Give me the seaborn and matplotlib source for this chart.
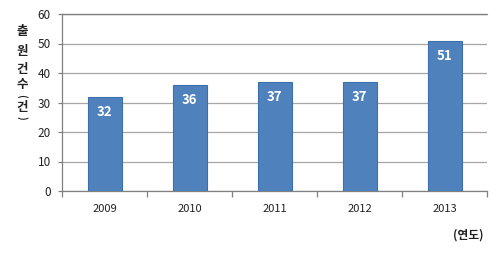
import matplotlib
matplotlib.use("Agg")
import matplotlib.pyplot as plt
import seaborn as sns
import pandas as pd

years = ["2009", "2010", "2011", "2012", "2013"]
counts = [32, 36, 37, 37, 51]
yticks = [0, 10, 20, 30, 40, 50, 60]
ylabel_chars = ["출", "원", "건", "수", "(", "건", ")"]
xlabel = "(연도)"

sns.set_theme(style="white")
plt.rcParams['font.family'] = ['Noto Sans CJK KR', 'DejaVu Sans']

df = pd.DataFrame({"year": years, "count": counts})

fig = plt.figure(figsize=(5.0, 2.57), dpi=100)
ax = fig.add_axes([62/500, 1-191/257, (487-62)/500, (191-14)/257])
sns.barplot(data=df, x="year", y="count", color="#4F81BD", width=0.4,
            edgecolor="#3D6FAE", linewidth=0.8, saturation=1, ax=ax, zorder=3)
ax.set_ylim(0, 60)
ax.set_xlim(-0.5, 4.5)
ax.set_yticks(yticks)
ax.yaxis.grid(True, color="#A6A6A6", linewidth=0.9, zorder=0)
ax.set_axisbelow(True)
ax.axhline(60, color="#808080", linewidth=1.0, zorder=1, clip_on=False)
for s in ["top", "right"]:
    ax.spines[s].set_visible(False)
for s in ["left", "bottom"]:
    ax.spines[s].set_color("#808080")
    ax.spines[s].set_linewidth(0.9)
ax.set_xlabel("")
ax.set_ylabel("")
ax.tick_params(axis="y", length=3, width=0.9, color="#808080", labelsize=8.5, pad=5, left=True, direction="out")
ax.tick_params(axis="x", length=0, labelsize=8, pad=9)
ax.set_xticks([i - 0.5 for i in range(6)], minor=True)
ax.tick_params(axis="x", which="minor", length=4, width=0.9, color="#808080", bottom=True, direction="out")
for lab in ax.get_yticklabels() + ax.get_xticklabels():
    lab.set_color("#222222")

for i, v in enumerate(counts):
    ax.text(i, v - 5.2, str(v), ha="center", va="center", color="white",
            fontsize=9.5, fontweight="bold", zorder=5)

ys = [32, 52, 70, 85, 96, 107, 118]
for ch, y in zip(ylabel_chars, ys):
    if ch in "()":
        fig.text(22/500, 1-y/257, ch, ha="center", va="center", fontsize=7,
                 fontweight="bold", rotation=270, color="#222222")
    else:
        fig.text(22/500, 1-y/257, ch, ha="center", va="center", fontsize=9,
                 fontweight="bold", color="#222222")

fig.text(468/500, 1-235/257, xlabel, ha="center", va="center", fontsize=8.5,
         fontweight="bold", color="#222222")

fig.savefig("out.png", dpi=100)
